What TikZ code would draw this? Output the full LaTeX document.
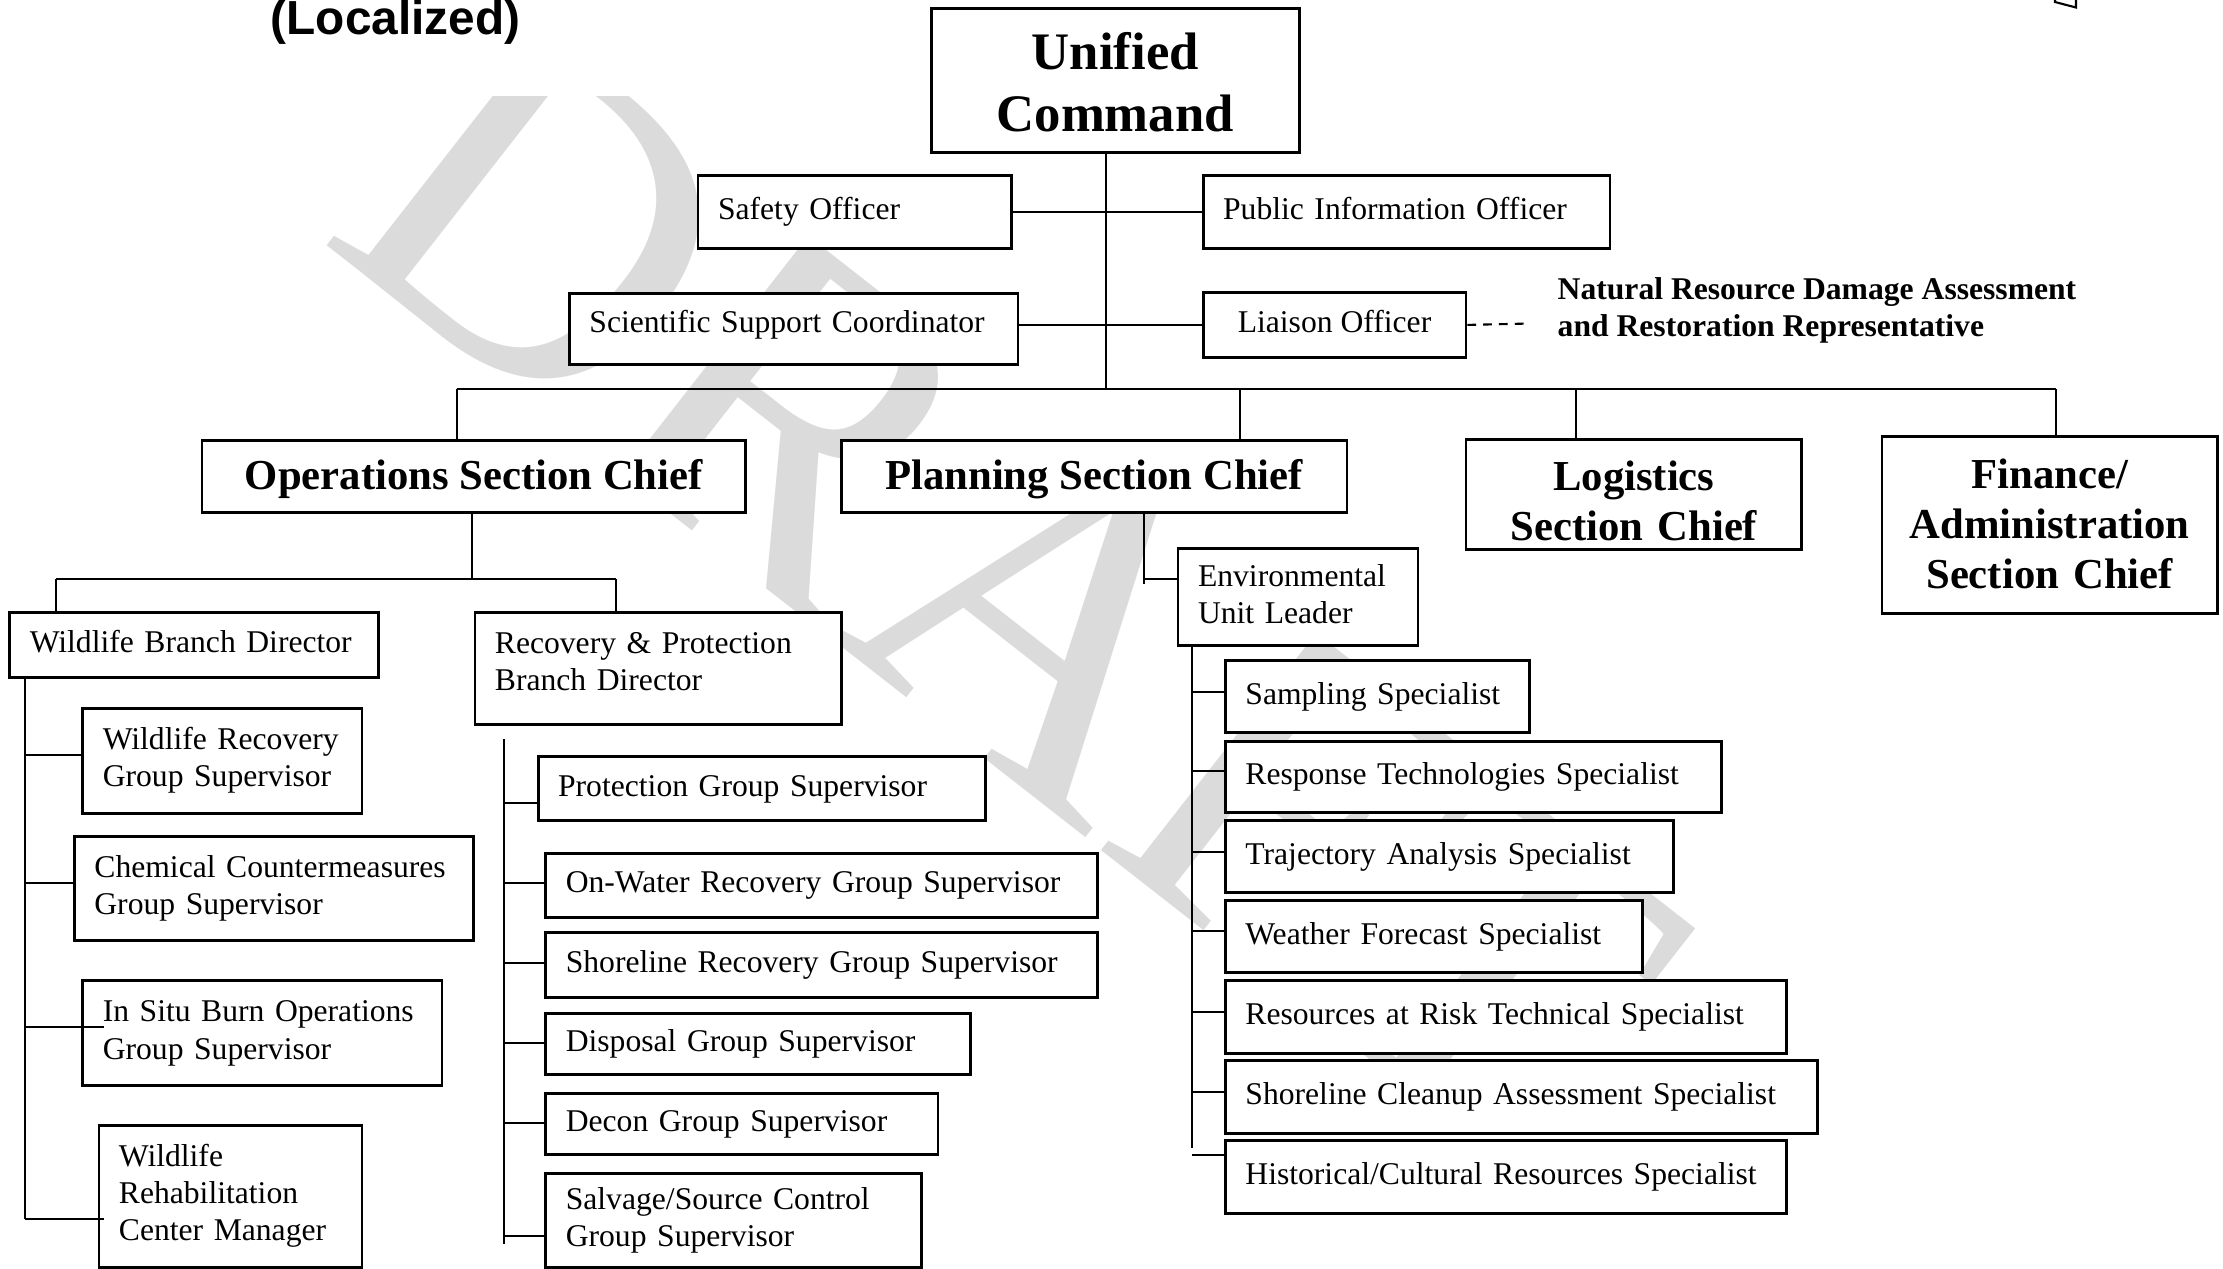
\documentclass[tikz,border=0pt]{standalone}
\usepackage{fontspec}
\setmainfont{Liberation Serif}
\setsansfont{Liberation Sans}
\newcommand\fnorm{\fontsize{9.0pt}{10.55pt}\selectfont}
\newcommand\fhead{\bfseries\fontsize{12.15pt}{14.2pt}\selectfont}
\newcommand\fuc{\bfseries\fontsize{15pt}{17.6pt}\selectfont}
\tikzset{
  bx/.style={draw, fill=white, line width=0.8pt, anchor=north west, inner ysep=0pt, inner xsep=2mm,
    align=left, font=\fnorm, execute at begin node=\strut, execute at end node=\strut},
  hd/.style={bx, align=center, font=\fhead},
  tdown/.style={execute at begin node={\rule{0pt}{#1}}},
  tup/.style={execute at end node={\rule[-#1]{0pt}{0pt}}},
  ln/.style={line width=0.6pt},
  dashline/.style={line width=0.6pt, dash pattern=on 2.5pt off 2pt},
}
\begin{document}
\begin{tikzpicture}[x=0.1mm,y=-0.1mm]
\useasboundingbox (0,0) rectangle (2223,1268);
% watermark
\begin{scope}
\clip (0,96) rectangle (2223,1268);
\node[rotate=-38, text=gray!28, font=\fontsize{132pt}{132pt}\selectfont, inner sep=0] (wm) at (1010,585) {DRAFT};
\end{scope}
% title fragment
\node[font=\sffamily\bfseries\fontsize{13.6pt}{16pt}\selectfont, anchor=base west, inner sep=0] (title) at (270,34.5) {(Localized)};
\draw[ln] (2055,0) -- (2055,2) -- (2076,7.5) -- (2076,0);
% command staff
\node[hd, font=\fuc, tdown=16.9pt, text width=32.77mm, minimum height=14.4mm] (uc) at (930,7) {Unified\\Command};
\node[bx, text width=27.34mm, minimum height=7.3mm] (so) at (696.6,174) {Safety Officer};
\node[bx, text width=36.68mm, minimum height=7.3mm] (pio) at (1201.7,174) {Public Information Officer};
\node[bx, tup=5.4pt, text width=40.85mm, minimum height=7.1mm] (ssc) at (568,292) {Scientific Support Coordinator};
\node[bx, align=center, minimum width=26.28mm, minimum height=6.5mm] (lo) at (1201.7,291) {Liaison Officer};
\node[font=\fnorm\bfseries, align=left, anchor=west, inner sep=0, execute at begin node=\strut, execute at end node=\strut] (nrda) at (1557,312.5) {Natural Resource Damage Assessment\\and Restoration Representative};
\coordinate (dashend) at (1530,323.5);
% sections
\node[hd, tdown=11.6pt, minimum width=54.37mm, minimum height=7.2mm] (ops) at (200.6,438.7) {Operations Section Chief};
\node[hd, tdown=11.6pt, minimum width=50.59mm, minimum height=7.2mm] (plan) at (839.7,438.7) {Planning Section Chief};
\node[hd, tdown=16.3pt, inner ysep=-3mm, text width=29.59mm, minimum height=10.94mm] (log) at (1464.5,438.3) {Logistics\\Section Chief};
\node[hd, tdown=12.2pt, text width=29.52mm, minimum height=17.67mm] (fin) at (1880.6,435) {Finance/\\Administration\\Section Chief};
% operations
\node[bx, text width=32.83mm, minimum height=6.53mm] (wbd) at (8.4,610.7) {Wildlife Branch Director};
\node[bx, tup=5.4pt, text width=32.69mm, minimum height=11.2mm] (rp) at (473.5,611.3) {Recovery \& Protection\\Branch Director};
\node[bx, text width=23.92mm, minimum height=10.44mm] (wrgs) at (81.4,707.3) {Wildlife Recovery\\Group Supervisor};
\node[bx, text width=35.9mm, minimum height=10.4mm] (chem) at (73,835.3) {Chemical Countermeasures\\Group Supervisor};
\node[bx, text width=31.91mm, minimum height=10.47mm] (isb) at (81.4,979.3) {In Situ Burn Operations\\Group Supervisor};
\node[bx, text width=22.31mm, minimum height=14.2mm] (rehab) at (97.5,1124) {Wildlife\\Rehabilitation\\Center Manager};
\node[bx, text width=40.75mm, minimum height=6.4mm] (pgs) at (536.7,755.3) {Protection Group Supervisor};
\node[bx, text width=51.14mm, minimum height=6.4mm] (onw) at (544.4,851.7) {On-Water Recovery Group Supervisor};
\node[bx, text width=51.14mm, minimum height=6.47mm] (shr) at (544.4,931) {Shoreline Recovery Group Supervisor};
\node[bx, text width=38.44mm, minimum height=6.1mm] (disp) at (544.4,1011.7) {Disposal Group Supervisor};
\node[bx, text width=35.21mm, minimum height=6.1mm] (decon) at (544.4,1091.7) {Decon Group Supervisor};
\node[bx, text width=33.6mm, minimum height=9.45mm] (salv) at (544.4,1171.7) {Salvage/Source Control\\Group Supervisor};
% planning
\node[bx, text width=20mm, minimum height=9.7mm] (eul) at (1176.6,547.3) {Environmental\\Unit Leader};
\node[bx, text width=26.43mm, minimum height=7.2mm] (samp) at (1224,659.3) {Sampling Specialist};
\node[bx, text width=45.62mm, minimum height=7.13mm] (resp) at (1224,740) {Response Technologies Specialist};
\node[bx, text width=40.82mm, minimum height=7.2mm] (traj) at (1224,819.3) {Trajectory Analysis Specialist};
\node[bx, text width=37.67mm, minimum height=7.2mm] (wfs) at (1224,899.3) {Weather Forecast Specialist};
\node[bx, text width=52.07mm, minimum height=7.24mm] (rar) at (1224,979.3) {Resources at Risk Technical Specialist};
\node[bx, text width=55.22mm, minimum height=7.24mm] (sca) at (1224,1059.3) {Shoreline Cleanup Assessment Specialist};
\node[bx, text width=52.07mm, minimum height=7.24mm] (hist) at (1224,1139.3) {Historical/Cultural Resources Specialist};
% connectors: command
\coordinate (busL) at (456.7,389);
\coordinate (busR) at (2056,389);
\draw[ln] (uc.south -| 1106,0) -- (1106,389);
\draw[ln] (so.east) -- (pio.west);
\draw[ln] (ssc.east |- lo.west) -- (lo.west);
\draw[dashline] (lo.east) -- (dashend);
\draw[ln] (busL) -- (busR);
\draw[ln] (busL) -- (ops.north -| busL);
\draw[ln] (1240,389) -- (plan.north -| 1240,0);
\draw[ln] (1576,389) -- (log.north -| 1576,0);
\draw[ln] (busR) -- (fin.north -| busR);
% operations tree
\draw[ln] (ops.south -| 472,0) -- (472,579);
\draw[ln] (56,579) -- (616,579);
\draw[ln] (56,579) -- (wbd.north -| 56,0);
\draw[ln] (616,579) -- (rp.north -| 616,0);
\draw[ln] (wbd.south -| 24.6,0) -- (24.6,1219.3);
\draw[ln] (24.6,755.3) -- (wrgs.west |- 0,755.3);
\draw[ln] (24.6,883.3) -- (chem.west |- 0,883.3);
\draw[ln] (24.6,1027.3) -- (isb.west |- 0,1027.3) -- (104,1027.3);
\draw[ln] (24.6,1219.3) -- (rehab.west |- 0,1219.3) -- (104,1219.3);
\draw[ln] (504.4,739.3) -- (504.4,1244);
\draw[ln] (504.4,803.3) -- (pgs.west |- 0,803.3);
\draw[ln] (504.4,883.3) -- (onw.west |- 0,883.3);
\draw[ln] (504.4,963.3) -- (shr.west |- 0,963.3);
\draw[ln] (504.4,1042.7) -- (disp.west |- 0,1042.7);
\draw[ln] (504.4,1123.3) -- (decon.west |- 0,1123.3);
\draw[ln] (504.4,1235.7) -- (salv.west |- 0,1235.7);
% planning tree
\draw[ln] (plan.south -| 1144.4,0) -- (1144.4,584.3);
\draw[ln] (1144.4,579.3) -- (eul.west |- 0,579.3);
\draw[ln] (eul.south -| 1192.4,0) -- (1192.4,1147.7);
\draw[ln] (1192.4,691.7) -- (samp.west |- 0,691.7);
\draw[ln] (1192.4,770.7) -- (resp.west |- 0,770.7);
\draw[ln] (1192.4,852) -- (traj.west |- 0,852);
\draw[ln] (1192.4,931) -- (wfs.west |- 0,931);
\draw[ln] (1192.4,1011.7) -- (rar.west |- 0,1011.7);
\draw[ln] (1192.4,1091.7) -- (sca.west |- 0,1091.7);
\draw[ln] (1192.4,1155) -- (hist.west |- 0,1155);
\end{tikzpicture}
\end{document}
